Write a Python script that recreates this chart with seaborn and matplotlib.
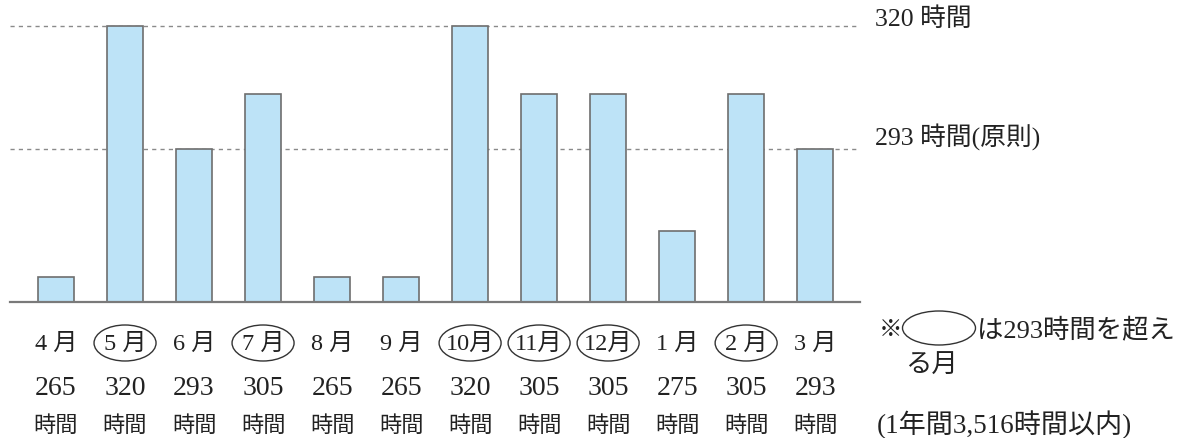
import matplotlib
matplotlib.use("Agg")
import matplotlib.pyplot as plt
import matplotlib.transforms as mtransforms
from matplotlib.patches import Ellipse
import seaborn as sns
import pandas as pd

months = ["4 月", "5 月", "6 月", "7 月", "8 月", "9 月", "10月", "11月", "12月", "1 月", "2 月", "3 月"]
hours = [265, 320, 293, 305, 265, 265, 320, 305, 305, 275, 305, 293]
value_labels = ["265", "320", "293", "305", "265", "265", "320", "305", "305", "275", "305", "293"]
limit_max = 320
limit_rule = 293
ref_labels = ["320 時間", "293 時間(原則)"]
note_line1 = "は293時間を超え"
note_line2 = "る月"
note_annual = "(1年間3,516時間以内)"

sns.set_theme(style="white")
plt.rcParams['font.family'] = ['Liberation Serif', 'Noto Sans CJK JP', 'DejaVu Sans']

W, H = 1188, 439
fig = plt.figure(figsize=(W / 100, H / 100), dpi=100)
ax = fig.add_axes([10 / W, 1 - 303 / H, 850 / W, 303 / H])

df = pd.DataFrame({"month": months, "hours": hours})
sns.barplot(data=df, x="month", y="hours", ax=ax, color="#bde3f7", saturation=1,
            width=0.52, edgecolor="#6e6e6e", linewidth=1.2, zorder=3)

px_per_h = (150 - 27) / (limit_max - limit_rule)
ax.set_ylim(limit_max - 276 / px_per_h, limit_max + 27 / px_per_h)
ax.set_xlim(-0.667, 11.65)

for v in (limit_max, limit_rule):
    ax.axhline(v, color="#8a8a8a", lw=1.0, ls=(0, (3, 3)), zorder=1)

for s in ["top", "right", "left"]:
    ax.spines[s].set_visible(False)
ax.spines["bottom"].set_color("#7a7a7a")
ax.spines["bottom"].set_linewidth(1.6)
ax.spines["bottom"].set_zorder(4)
ax.set_xticks([])
ax.set_yticks([])
ax.set_xlabel("")
ax.set_ylabel("")

blend = mtransforms.blended_transform_factory(ax.transData, fig.transFigure)
for i, (m, h, vl) in enumerate(zip(months, hours, value_labels)):
    ax.text(i, 1 - 344 / H, m, transform=blend, ha="center", va="center",
            fontsize=17.5, color="#222222")
    ax.text(i, 1 - 389 / H, vl, transform=blend, ha="center", va="center",
            fontsize=20, color="#222222", family=["Liberation Serif"])
    ax.text(i, 1 - 425 / H, "時間", transform=blend, ha="center", va="center",
            fontsize=16, color="#222222", family=["Noto Sans CJK JP"])
    if h > limit_rule:
        ax.add_patch(Ellipse((i, 1 - 344 / H), width=62 / 69, height=36 / H,
                             transform=blend, fill=False, edgecolor="#333333",
                             lw=1.0, clip_on=False))

# reference line labels
ax.text(875 / W, 1 - 19 / H, ref_labels[0], transform=fig.transFigure, ha="left",
        va="center", fontsize=18.5, color="#222222")
ax.text(875 / W, 1 - 137 / H, ref_labels[1], transform=fig.transFigure, ha="left",
        va="center", fontsize=18.5, color="#222222")

# note
fig.text(879 / W, 1 - 330 / H, "※", ha="left", va="center", fontsize=17,
         color="#222222", family=["Noto Sans CJK JP"])
fig.patches.append(Ellipse((939 / W, 1 - 329 / H), width=73 / W, height=34 / H,
                           transform=fig.transFigure, fill=False,
                           edgecolor="#333333", lw=1.0))
fig.text(977 / W, 1 - 330 / H, note_line1, ha="left", va="center", fontsize=19,
         color="#222222")
fig.text(905 / W, 1 - 365 / H, note_line2, ha="left", va="center", fontsize=19,
         color="#222222", family=["Noto Sans CJK JP"])
fig.text(877 / W, 1 - 425 / H, note_annual, ha="left", va="center", fontsize=19.5,
         color="#222222")

fig.savefig("out.png", dpi=100)
